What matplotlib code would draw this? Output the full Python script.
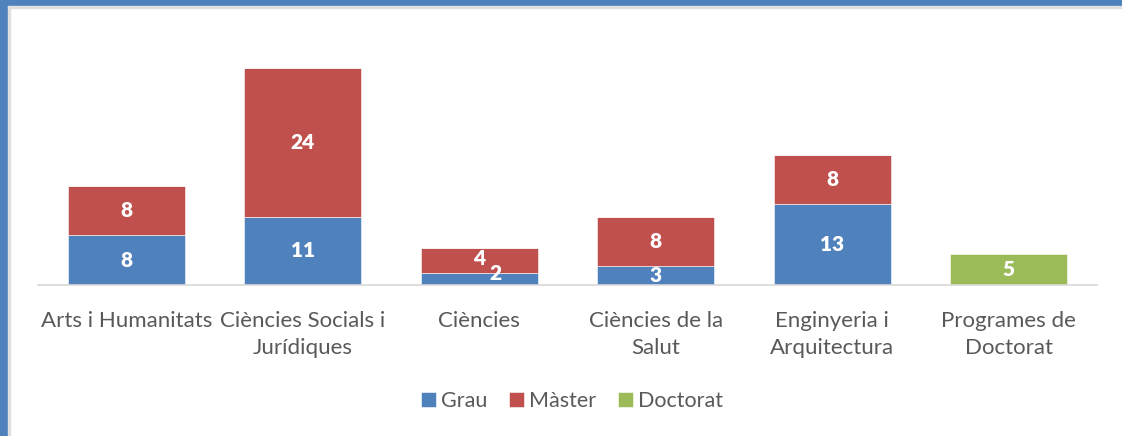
import matplotlib.pyplot as plt
import numpy as np
from matplotlib.patches import Rectangle

categories = ["Arts i Humanitats", "Ciències Socials i\nJurídiques", "Ciències",
              "Ciències de la\nSalut", "Enginyeria i\nArquitectura", "Programes de\nDoctorat"]
grau = [8, 11, 2, 3, 13, 0]
master = [8, 24, 4, 8, 8, 0]
doctorat = [0, 0, 0, 0, 0, 5]

c_grau = '#4F81BD'
c_master = '#C0504D'
c_doc = '#9BBB59'

plt.rcParams['font.family'] = ['Lato', 'DejaVu Sans']

fig = plt.figure(figsize=(11.22, 4.36), dpi=100)
ax = fig.add_axes([38 / 1122, 1 - 285 / 436, 1059 / 1122, 248 / 436])

x = np.arange(len(categories))
w = 0.663
grau = np.array(grau)
master = np.array(master)
doctorat = np.array(doctorat)

ax.bar(x, grau, w, color=c_grau, label='Grau', edgecolor='white', linewidth=0.4)
ax.bar(x, master, w, bottom=grau, color=c_master, label='Màster', edgecolor='white', linewidth=0.4)
ax.bar(x, doctorat, w, bottom=grau + master, color=c_doc, label='Doctorat', edgecolor='white', linewidth=0.4)

lab = dict(color='white', fontweight='heavy', fontsize=15, ha='center', va='center')
for i in range(len(categories)):
    g, m, d = grau[i], master[i], doctorat[i]
    if i == 2:
        # overlapping labels on the small bar, as in the original
        ax.text(i, g + m / 2 + 0.2, str(m), **lab)
        ax.text(i + 0.09, g / 2 + 0.9, str(g), **lab)
        continue
    if g:
        ax.text(i, g / 2, str(g), **lab)
    if m:
        ax.text(i, g + m / 2, str(m), **lab)
    if d:
        ax.text(i, g + m + d / 2, str(d), **lab)

ax.set_xlim(-0.5, 5.5)
ax.set_ylim(0, 40)
ax.set_yticks([])
for s in ['top', 'right', 'left']:
    ax.spines[s].set_visible(False)
ax.spines['bottom'].set_color('#D9D9D9')
ax.spines['bottom'].set_linewidth(1.2)
ax.set_xticks(x)
ax.set_xticklabels(categories, fontsize=16, color='#595959', linespacing=1.42)
ax.tick_params(axis='x', length=0, pad=19)

leg = fig.legend(loc='center', bbox_to_anchor=(572 / 1122, 1 - 401 / 436), ncol=3,
                 frameon=False, fontsize=15.5, handlelength=0.7, handleheight=0.7,
                 handletextpad=0.25, columnspacing=1.0)
for t in leg.get_texts():
    t.set_color('#595959')

# frame border of the screenshot
fig.patches.append(Rectangle((0, 0), 8 / 1122, 1, transform=fig.transFigure, color='#4F81BD', zorder=0))
fig.patches.append(Rectangle((0, 1 - 6 / 436), 1, 6 / 436, transform=fig.transFigure, color='#4F81BD', zorder=0))
fig.patches.append(Rectangle((8 / 1122, 0), 2 / 1122, 1 - 6 / 436, transform=fig.transFigure, color='#E0E0E0', zorder=0))
fig.patches.append(Rectangle((8 / 1122, 1 - 8 / 436), 1, 2 / 436, transform=fig.transFigure, color='#E0E0E0', zorder=0))

fig.savefig('out.png', dpi=100)
